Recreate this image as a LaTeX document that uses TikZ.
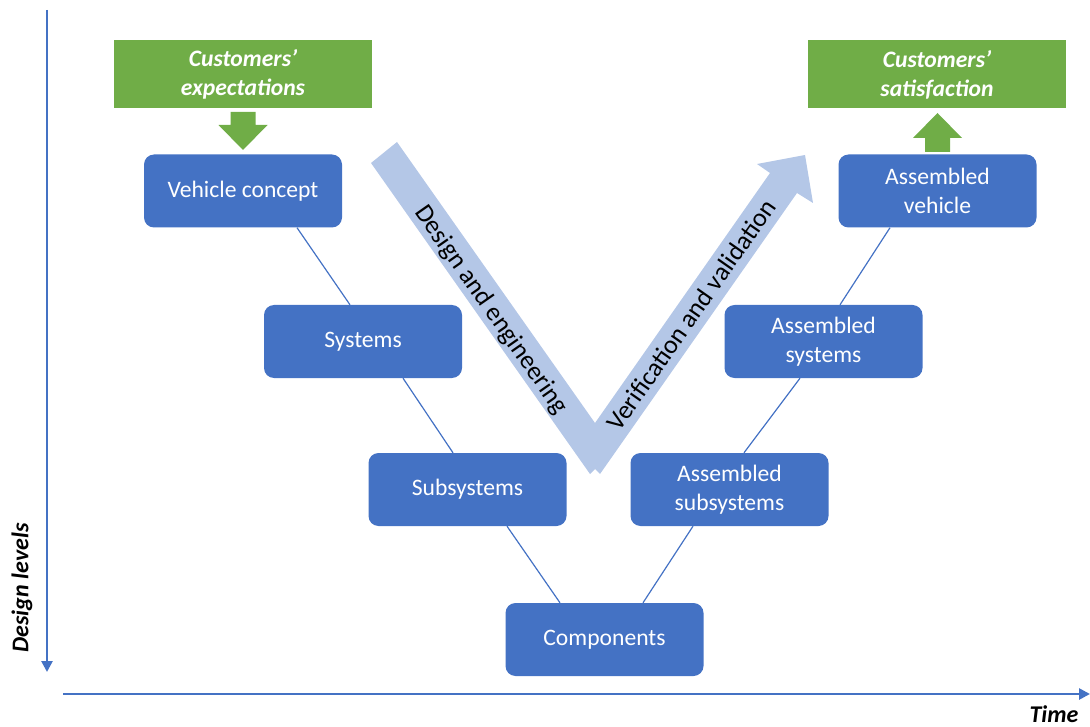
\documentclass[tikz,border=0pt]{standalone}
\usepackage{fontspec}
\setmainfont{Carlito}
\usetikzlibrary{arrows.meta}
\definecolor{vblue}{HTML}{4472C4}
\definecolor{vgreen}{HTML}{70AD47}
\definecolor{vlight}{HTML}{B4C7E7}
\begin{document}
\begin{tikzpicture}[x=1pt,y=-1pt,
  stage/.style={rectangle, rounded corners=10pt, fill=vblue, minimum width=198pt, minimum height=73pt, text=white, align=center, inner sep=0pt, font=\fontsize{23.6}{29}\selectfont},
  goal/.style={rectangle, fill=vgreen, minimum width=258pt, minimum height=68pt, text=white, align=center, inner sep=0pt, font=\fontsize{23.6}{29}\selectfont\bfseries\itshape},
  link/.style={draw=vblue, line width=1.2pt},
  axis/.style={draw=vblue, line width=2.6pt, -{Triangle[width=11pt,length=11pt]}},
  vlabel/.style={font=\fontsize{26}{30}\selectfont, text=black, inner sep=0pt},
  axlabel/.style={font=\fontsize{24}{28}\selectfont\bfseries\itshape, text=black, inner sep=0pt}]
\useasboundingbox (0,0) rectangle (1090,727);

% axes
\coordinate (ytop) at (47,10);
\coordinate (ybot) at (47,672);
\coordinate (xl) at (63,694);
\coordinate (xr) at (1090,694);
\draw[axis] (ytop) -- (ybot);
\draw[axis] (xl) -- (xr);
\node[axlabel, rotate=90] (dl) at (22,588) {Design levels};
\node[axlabel, anchor=base] (tm) at (1054,722) {Time};

% V arrow
\fill[vlight] (371,163) -- (397,142) -- (595,423) -- (770,173) -- (757,164)
  -- (805,155) -- (813,203) -- (797,193) -- (600,474) -- (595,469) -- (590,474) -- cycle;
\node[vlabel, rotate=-55] (de) at (491,310) {Design and engineering};
\node[vlabel, rotate=55] (vv) at (691,315) {Verification and validation};

% green goals
\node[goal] (ge) at (243,74) {Customers’\\expectations};
\node[goal] (gs) at (937,74.5) {Customers’\\satisfaction};
\fill[vgreen] (230.5,112) -- (255.5,112) -- (255.5,125) -- (267.5,125) -- (243,150)
  -- (218.5,125) -- (230.5,125) -- cycle;
\fill[vgreen] (925,152) -- (950,152) -- (950,138) -- (962,138) -- (937.5,113)
  -- (913,138) -- (925,138) -- cycle;

% stages
\node[stage] (vc) at (243,191) {\raisebox{-2pt}{Vehicle concept}};
\node[stage] (sys) at (363,341.5) {\raisebox{-2pt}{Systems}};
\node[stage] (sub) at (467.5,489.5) {\raisebox{-2pt}{Subsystems}};
\node[stage] (comp) at (604.5,639.5) {\raisebox{-2pt}{Components}};
\node[stage] (asub) at (729.5,489.5) {Assembled\\subsystems};
\node[stage] (asys) at (823.5,341.5) {Assembled\\systems};
\node[stage] (aveh) at (937.5,191) {Assembled\\vehicle};

% links
\draw[link] ([xshift=54pt]vc.south) -- ([xshift=-13pt]sys.north);
\draw[link] ([xshift=40pt]sys.south) -- ([xshift=-14.5pt]sub.north);
\draw[link] ([xshift=39.5pt]sub.south) -- ([xshift=-44.5pt]comp.north);
\draw[link] ([xshift=38.5pt]comp.north) -- ([xshift=-36.5pt]asub.south);
\draw[link] ([xshift=14.5pt]asub.north) -- ([xshift=-23.5pt]asys.south);
\draw[link] ([xshift=16.5pt]asys.north) -- ([xshift=-47.5pt]aveh.south);
\end{tikzpicture}
\end{document}
